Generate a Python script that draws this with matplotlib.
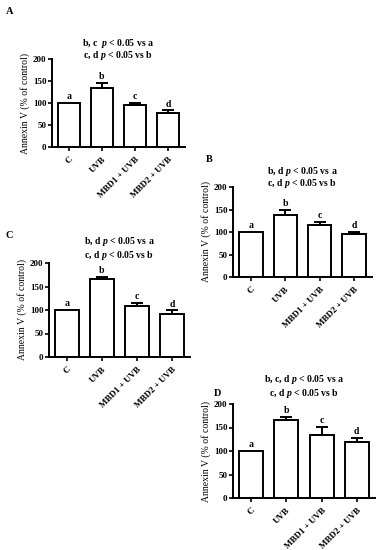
import matplotlib
matplotlib.use('Agg')
import matplotlib.pyplot as plt
import numpy as np

plt.rcParams['font.family'] = 'Liberation Serif'
plt.rcParams['font.weight'] = 'bold'
plt.rcParams['mathtext.fontset'] = 'custom'
plt.rcParams['mathtext.it'] = 'Liberation Serif:italic:bold'
plt.rcParams['mathtext.rm'] = 'Liberation Serif:bold'

groups = ['C', 'UVB', 'MBD1 + UVB', 'MBD2 + UVB']
letters = ['a', 'b', 'c', 'd']

vals_a = [100, 135, 96, 77]
err_a = [0, 10, 5, 6]
vals_b = [100, 138, 115, 96]
err_b = [0, 11, 7, 4]
vals_c = [100, 165, 108, 92]
err_c = [0, 5, 7, 7]
vals_d = [100, 165, 134, 120]
err_d = [0, 8, 17, 7]

titles = {
    'A': ['b, c  $p$ < 0.05 vs a', 'c, d $p$ < 0.05 vs b'],
    'B': ['b, d $p$ < 0.05 vs a', 'c, d $p$ < 0.05 vs b'],
    'C': ['b, d $p$ < 0.05 vs a', 'c, d $p$ < 0.05 vs b'],
    'D': ['b, c, d $p$ < 0.05 vs a', 'c, d $p$ < 0.05 vs b'],
}

W, H = 388, 550
fig = plt.figure(figsize=(W / 100, H / 100), dpi=100)


def px_axes(x0, x1, ytop, ybot):
    return fig.add_axes([x0 / W, 1 - ybot / H, (x1 - x0) / W, (ybot - ytop) / H])


def panel(box, vals, errs, key, letter_xy, title_y):
    ax = px_axes(*box)
    x = np.arange(len(vals))
    ax.bar(x, vals, width=0.68, color='white', edgecolor='black', linewidth=1.4, zorder=2)
    for xi, v, e in zip(x, vals, errs):
        if e > 0:
            ax.errorbar(xi, v, yerr=[[0], [e]], color='black', capsize=4.5,
                        elinewidth=1.4, capthick=1.4, zorder=3)
        ax.text(xi, v + e + 4, letters[xi], ha='center', va='bottom', fontsize=7)
    ax.set_xlim(-0.52, 3.52)
    ax.set_ylim(0, 200)
    ax.set_yticks([0, 50, 100, 150, 200])
    ax.set_xticks(x)
    ax.set_xticklabels(groups, rotation=45, ha='right', rotation_mode='anchor', fontsize=6.5)
    ax.tick_params(axis='y', labelsize=6.5, length=3, width=1.2, pad=1)
    ax.tick_params(axis='x', length=3, width=1.2, pad=3)
    for s in ['top', 'right']:
        ax.spines[s].set_visible(False)
    for s in ['left', 'bottom']:
        ax.spines[s].set_linewidth(1.4)
    ax.set_ylabel('Annexin V (% of control)', fontsize=7, labelpad=2)
    cx = (box[0] + box[1]) / 2 / W
    fig.text(cx, 1 - title_y[0] / H, titles[key][0], ha='center', va='center', fontsize=7)
    fig.text(cx, 1 - title_y[1] / H, titles[key][1], ha='center', va='center', fontsize=7)
    fig.text(letter_xy[0] / W, 1 - letter_xy[1] / H, key, ha='left', va='center', fontsize=7.5)
    return ax


panel((52, 185, 59, 147), vals_a, err_a, 'A', (6, 12), (43, 56))
panel((233, 372, 187, 277), vals_b, err_b, 'B', (206, 160), (172, 184))
panel((49, 190, 263, 357), vals_c, err_c, 'C', (6, 236), (241, 255))
panel((233, 375, 404, 498), vals_d, err_d, 'D', (214, 393), (379, 393))

fig.savefig('out.png', dpi=100)
